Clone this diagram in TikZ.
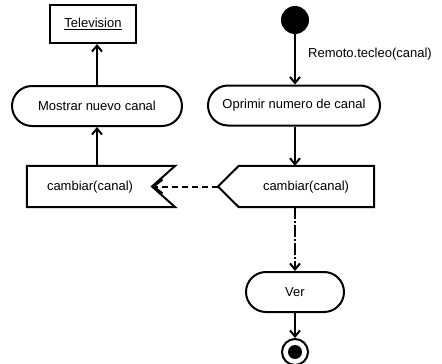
\documentclass[tikz,border=0pt]{standalone}
\usepackage{fontspec}
\setmainfont{Liberation Sans}
\usetikzlibrary{arrows.meta,shapes.misc}
\begin{document}
\begin{tikzpicture}[x=1pt,y=-1pt,
  every node/.style={font=\fontsize{13}{15}\selectfont, inner sep=0pt},
  ln/.style={line width=2pt},
  arr/.style={ln,-{Straight Barb[length=6pt,width=10pt,line width=2pt]}},
  act/.style={draw,ln,rounded rectangle,minimum height=40pt},
  objbox/.style={draw,ln,rectangle,minimum width=86pt,minimum height=38pt},
  sig/.style={rectangle,minimum height=41pt}]
\useasboundingbox (0,0) rectangle (442,364);
% left column
\node[objbox] (tv) at (93,24) {\underline{Television}};
\node[act,minimum width=170pt] (mostrar) at (97,106) {Mostrar nuevo canal};
\node[sig,minimum width=148pt] (lrecv) at (101,186.5) {};
\coordinate (notch) at (152,186.5);
\node (lrecvtxt) at (90,187) {cambiar(canal)};
\draw[ln] (lrecv.north west) -- (lrecv.north east) -- (notch) -- (lrecv.south east) -- (lrecv.south west) -- cycle;
% right column
\node[circle,fill=black,minimum size=28pt] (init) at (295,20) {};
\node[anchor=west] (lbl) at (308,54) {Remoto.tecleo(canal)};
\node[act,minimum width=172pt] (oprimir) at (294,105.5) {Oprimir numero de canal};
\node[sig,minimum width=135pt] (rsend) at (306.5,186.5) {};
\coordinate (tip) at (218,186.5);
\node (rsendtxt) at (306,187) {cambiar(canal)};
\draw[ln] (tip) -- (rsend.north west) -- (rsend.north east) -- (rsend.south east) -- (rsend.south west) -- cycle;
\node[act,minimum width=98pt] (ver) at (295,292) {Ver};
\node[circle,draw,ln,minimum size=26pt] (fin) at (295,352) {};
\node[circle,fill=black,minimum size=14pt] (finin) at (295,352) {};
% connectors
\draw[arr] (lrecv.north -| mostrar) -- (mostrar.south);
\draw[arr] (mostrar.north) -- (tv.south -| mostrar);
\draw[arr] (init) -- (oprimir.north -| init);
\draw[arr] (oprimir.south -| init) -- (rsend.north -| init);
\draw[arr,dash pattern=on 12pt off 2pt on 2pt off 2pt] (rsend.south -| init) -- (ver.north);
\draw[arr] (ver.south) -- (fin.north);
\draw[ln,dash pattern=on 6pt off 4pt,-{Straight Barb[length=9pt,width=14pt,line width=2pt]}] (tip) -- (notch);
\end{tikzpicture}
\end{document}
